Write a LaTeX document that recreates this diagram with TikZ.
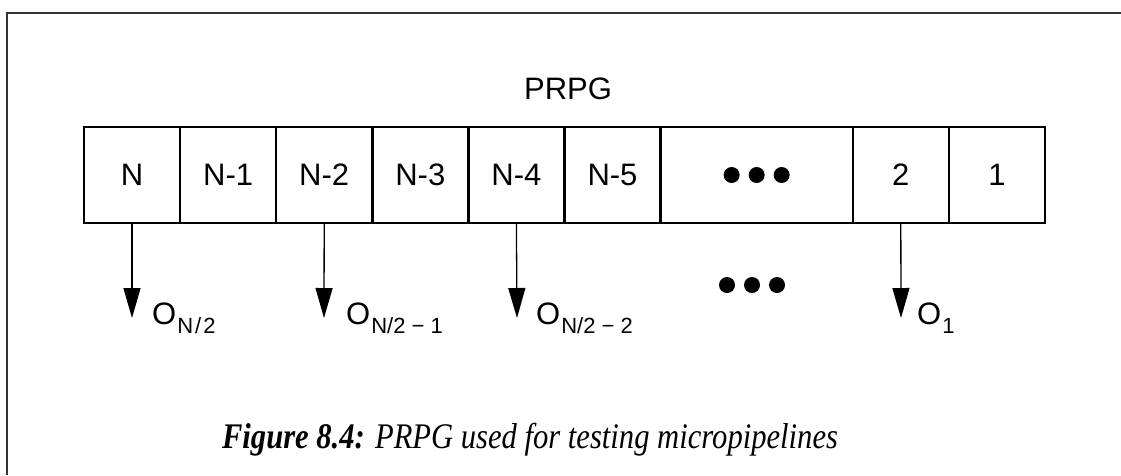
\documentclass[tikz,border=0pt]{standalone}
\usepackage{fontspec}
\setmainfont{Liberation Sans}
\newfontfamily\capfont{Liberation Serif}
\usetikzlibrary{positioning,arrows.meta}
\newcommand\osub[1]{\kern1pt\raisebox{-9pt}{\fontsize{22}{22}\selectfont #1}}

\begin{document}
\begin{tikzpicture}[x=1pt,y=-1pt,
  cell/.style={draw, line width=2.5pt, minimum width=96.1pt, minimum height=96pt,
    inner sep=0pt, outer sep=0pt, font=\fontsize{31}{31}\selectfont},
  tap/.style={-{Triangle[length=30pt,width=17pt]}, line width=1.3pt},
  olabel/.style={anchor=base west, inner sep=0pt, font=\fontsize{31}{31}\selectfont}]
\useasboundingbox (0,0) rectangle (1121,475);
% frame round the figure
\draw[line width=1.3pt, black!80] (7,475) -- (7,13) -- (1121,13);
% the register, one cell after the other
\node[font=\fontsize{31}{31}\selectfont] (prpg) at (568,89) {PRPG};
\node[cell] (cN) at (132,175) {N};
\node[cell, right=0pt of cN] (cN1) {N-1};
\node[cell, right=0pt of cN1] (cN2) {N-2};
\node[cell, right=0pt of cN2] (cN3) {N-3};
\node[cell, right=0pt of cN3] (cN4) {N-4};
\node[cell, right=0pt of cN4] (cN5) {N-5};
\node[cell, right=0pt of cN5, minimum width=192.2pt] (cdots) {};
\node[cell, right=0pt of cdots] (c2) {2};
\node[cell, right=0pt of c2] (c1) {1};
\foreach \i in {-1,0,1}
  \fill ([xshift=\i*25pt]cdots.center) circle (8pt);
% taps to the outputs
\coordinate (tN) at (132,318);
\coordinate (tN2) at (324,318);
\coordinate (tN4) at (517,318);
\coordinate (t2) at (901,318);
\coordinate (moredots) at (752,285);
\draw[tap] (cN.south) -- (tN);
\draw[tap] (cN2.south) -- (tN2);
\draw[tap] (cN4.south) -- (tN4);
\draw[tap] (c2.south) -- (t2);
\foreach \i in {-1,0,1}
  \fill ([xshift=\i*25pt]moredots) circle (8pt);
\node[olabel] (oN) at (152,324) {O\osub{N\kern2pt/\kern2pt2}};
\node[olabel] (oN1) at (346,324) {O\osub{N/2 − 1}};
\node[olabel] (oN2) at (536,324) {O\osub{N/2 − 2}};
\node[olabel] (o1) at (917,324) {O\osub{1}};
% caption
\node[font=\capfont\itshape\fontsize{36}{36}\selectfont, anchor=base] (cap) at (530,448)
  {\scalebox{0.85}[1]{\textbf{Figure 8.4:} PRPG used for testing micropipelines}};
\end{tikzpicture}
\end{document}
